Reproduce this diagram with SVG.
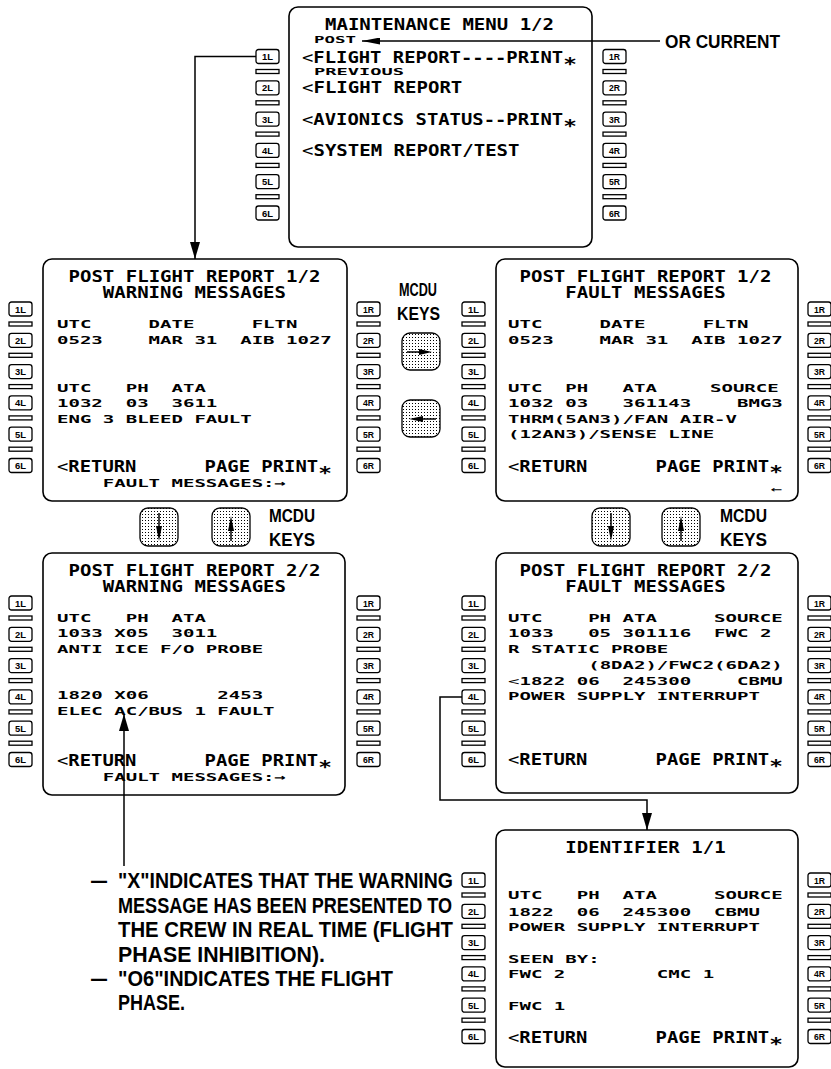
<svg xmlns="http://www.w3.org/2000/svg" width="831" height="1069" viewBox="0 0 831 1069" xml:space="preserve">
<style>
.scr{fill:#fff;stroke:#000;stroke-width:1.6}
.k{fill:#fff;stroke:#000;stroke-width:1.3}
.kl{font-family:"Liberation Sans Narrow","Liberation Sans",Arial,sans-serif;font-weight:bold;font-size:9.5px;text-anchor:middle}
.L,.S,.T{font-family:"DejaVu Sans Mono","Liberation Mono",monospace;font-weight:bold;white-space:pre;fill:#000}
.L{font-size:15px}
.S{font-size:11px}
.T{font-size:9px}
.n{font-weight:normal}
.A{font-family:"Liberation Sans Narrow","Liberation Sans",Arial,sans-serif;font-weight:bold;font-size:22px;white-space:pre}
.M{font-family:"Liberation Sans Narrow","Liberation Sans",Arial,sans-serif;font-weight:bold;font-size:19px}
.ln{fill:none;stroke:#000;stroke-width:1.5}
.btn{fill:url(#dots);stroke:#000;stroke-width:1.3}
</style>
<defs>
<pattern id="dots" width="3" height="3" patternUnits="userSpaceOnUse"><rect width="3" height="3" fill="#fff"/><rect x="1" y="1" width="1" height="1" fill="#000"/></pattern>
<marker id="ah" viewBox="0 0 17 10" refX="17" refY="5" markerWidth="17" markerHeight="10" markerUnits="userSpaceOnUse" orient="auto"><path d="M0,0 L17,5 L0,10 Z" fill="#000"/></marker>
<marker id="ah2" viewBox="0 0 18 7" refX="18" refY="3.5" markerWidth="18" markerHeight="7" markerUnits="userSpaceOnUse" orient="auto"><path d="M0,0 L18,3.5 L0,7 Z" fill="#000"/></marker>
<g id="kL">
<rect class="k" x="0" y="0" width="23" height="14" rx="2.5"/><rect class="k" x="0" y="20" width="23" height="4"/>
<rect class="k" x="0" y="31.3" width="23" height="14" rx="2.5"/><rect class="k" x="0" y="51.3" width="23" height="4"/>
<rect class="k" x="0" y="62.6" width="23" height="14" rx="2.5"/><rect class="k" x="0" y="82.6" width="23" height="4"/>
<rect class="k" x="0" y="93.9" width="23" height="14" rx="2.5"/><rect class="k" x="0" y="113.9" width="23" height="4"/>
<rect class="k" x="0" y="125.2" width="23" height="14" rx="2.5"/><rect class="k" x="0" y="145.2" width="23" height="4"/>
<rect class="k" x="0" y="156.5" width="23" height="14" rx="2.5"/>
<text class="kl" x="11.5" y="10.5" textLength="11" lengthAdjust="spacingAndGlyphs">1L</text>
<text class="kl" x="11.5" y="41.8" textLength="11" lengthAdjust="spacingAndGlyphs">2L</text>
<text class="kl" x="11.5" y="73.1" textLength="11" lengthAdjust="spacingAndGlyphs">3L</text>
<text class="kl" x="11.5" y="104.4" textLength="11" lengthAdjust="spacingAndGlyphs">4L</text>
<text class="kl" x="11.5" y="135.7" textLength="11" lengthAdjust="spacingAndGlyphs">5L</text>
<text class="kl" x="11.5" y="167" textLength="11" lengthAdjust="spacingAndGlyphs">6L</text>
</g>
<g id="kR">
<rect class="k" x="0" y="0" width="23" height="14" rx="2.5"/><rect class="k" x="0" y="20" width="23" height="4"/>
<rect class="k" x="0" y="31.3" width="23" height="14" rx="2.5"/><rect class="k" x="0" y="51.3" width="23" height="4"/>
<rect class="k" x="0" y="62.6" width="23" height="14" rx="2.5"/><rect class="k" x="0" y="82.6" width="23" height="4"/>
<rect class="k" x="0" y="93.9" width="23" height="14" rx="2.5"/><rect class="k" x="0" y="113.9" width="23" height="4"/>
<rect class="k" x="0" y="125.2" width="23" height="14" rx="2.5"/><rect class="k" x="0" y="145.2" width="23" height="4"/>
<rect class="k" x="0" y="156.5" width="23" height="14" rx="2.5"/>
<text class="kl" x="11.5" y="10.5" textLength="11" lengthAdjust="spacingAndGlyphs">1R</text>
<text class="kl" x="11.5" y="41.8" textLength="11" lengthAdjust="spacingAndGlyphs">2R</text>
<text class="kl" x="11.5" y="73.1" textLength="11" lengthAdjust="spacingAndGlyphs">3R</text>
<text class="kl" x="11.5" y="104.4" textLength="11" lengthAdjust="spacingAndGlyphs">4R</text>
<text class="kl" x="11.5" y="135.7" textLength="11" lengthAdjust="spacingAndGlyphs">5R</text>
<text class="kl" x="11.5" y="167" textLength="11" lengthAdjust="spacingAndGlyphs">6R</text>
</g>
</defs>
<rect width="831" height="1069" fill="#fff"/>

<g id="maintenance-menu">
<rect class="scr" x="289" y="7" width="303" height="240" rx="9"/>
<use href="#kL" x="256" y="49.5"/>
<use href="#kR" x="603" y="49.5"/>
<text class="L" x="325" y="30" textLength="229" lengthAdjust="spacingAndGlyphs">MAINTENANCE MENU 1/2</text>
<text class="T" x="314" y="43" textLength="42" lengthAdjust="spacingAndGlyphs">POST</text>
<text class="L" x="302" y="63" textLength="274.8" lengthAdjust="spacingAndGlyphs"><tspan class="n">&lt;</tspan>FLIGHT REPORT----PRINT<tspan dy="7" font-size="18px">*</tspan></text>
<text class="T" x="314" y="75" textLength="90" lengthAdjust="spacingAndGlyphs">PREVIOUS</text>
<text class="L" x="302" y="93" textLength="160.3" lengthAdjust="spacingAndGlyphs"><tspan class="n">&lt;</tspan>FLIGHT REPORT</text>
<text class="L" x="302" y="125" textLength="274.8" lengthAdjust="spacingAndGlyphs"><tspan class="n">&lt;</tspan>AVIONICS STATUS--PRINT<tspan dy="7" font-size="18px">*</tspan></text>
<text class="L" x="302" y="156" textLength="217.55" lengthAdjust="spacingAndGlyphs"><tspan class="n">&lt;</tspan>SYSTEM REPORT/TEST</text>
</g>

<g id="pfr-1-warning">
<rect class="scr" x="43" y="259" width="304" height="242" rx="9"/>
<use href="#kL" x="9" y="302"/>
<use href="#kR" x="357" y="302"/>
<text class="L" x="68.5" y="282" textLength="251.9" lengthAdjust="spacingAndGlyphs">POST FLIGHT REPORT 1/2</text>
<text class="L" x="102.8" y="298" textLength="183.2" lengthAdjust="spacingAndGlyphs">WARNING MESSAGES</text>
<text class="S" x="57" y="328" textLength="240.45" lengthAdjust="spacingAndGlyphs">UTC     DATE     FLTN</text>
<text class="S" x="57" y="344" textLength="274.8" lengthAdjust="spacingAndGlyphs">0523    MAR 31  AIB 1027</text>
<text class="S" x="57" y="392" textLength="148.85" lengthAdjust="spacingAndGlyphs">UTC   PH  ATA</text>
<text class="S" x="57" y="407" textLength="160.3" lengthAdjust="spacingAndGlyphs">1032  03  3611</text>
<text class="S" x="57" y="423" textLength="194.65" lengthAdjust="spacingAndGlyphs">ENG 3 BLEED FAULT</text>
<text class="L" x="57" y="472" textLength="274.8" lengthAdjust="spacingAndGlyphs"><tspan class="n">&lt;</tspan>RETURN      PAGE PRINT<tspan dy="7" font-size="18px">*</tspan></text>
<text class="S" x="102.8" y="487" textLength="183.2" lengthAdjust="spacingAndGlyphs">FAULT MESSAGES:→</text>
</g>

<g id="pfr-1-fault">
<rect class="scr" x="496" y="259" width="302" height="242" rx="9"/>
<use href="#kL" x="462" y="302"/>
<use href="#kR" x="808" y="302"/>
<text class="L" x="519.5" y="282" textLength="251.9" lengthAdjust="spacingAndGlyphs">POST FLIGHT REPORT 1/2</text>
<text class="L" x="565.3" y="298" textLength="160.3" lengthAdjust="spacingAndGlyphs">FAULT MESSAGES</text>
<text class="S" x="508" y="328" textLength="240.45" lengthAdjust="spacingAndGlyphs">UTC     DATE     FLTN</text>
<text class="S" x="508" y="344" textLength="274.8" lengthAdjust="spacingAndGlyphs">0523    MAR 31  AIB 1027</text>
<text class="S" x="508" y="392" textLength="148.85" lengthAdjust="spacingAndGlyphs">UTC  PH   ATA</text>
<text class="S" x="710" y="392" textLength="68.7" lengthAdjust="spacingAndGlyphs">SOURCE</text>
<text class="S" x="508" y="407" textLength="274.8" lengthAdjust="spacingAndGlyphs">1032 03   361143    BMG3</text>
<text class="S" x="508" y="423" textLength="229" lengthAdjust="spacingAndGlyphs">THRM(5AN3)/FAN AIR-V</text>
<text class="S" x="508" y="438" textLength="206.1" lengthAdjust="spacingAndGlyphs">(12AN3)/SENSE LINE</text>
<text class="L" x="508" y="472" textLength="274.8" lengthAdjust="spacingAndGlyphs"><tspan class="n">&lt;</tspan>RETURN      PAGE PRINT<tspan dy="6" font-size="18px">*</tspan></text>
<text class="S n" x="771" y="493" textLength="11.45" lengthAdjust="spacingAndGlyphs">←</text>
</g>

<g id="pfr-2-warning">
<rect class="scr" x="43" y="553" width="302" height="242" rx="9"/>
<use href="#kL" x="9" y="596"/>
<use href="#kR" x="357" y="596"/>
<text class="L" x="68.5" y="576" textLength="251.9" lengthAdjust="spacingAndGlyphs">POST FLIGHT REPORT 2/2</text>
<text class="L" x="102.8" y="592" textLength="183.2" lengthAdjust="spacingAndGlyphs">WARNING MESSAGES</text>
<text class="S" x="57" y="622" textLength="148.85" lengthAdjust="spacingAndGlyphs">UTC   PH  ATA</text>
<text class="S" x="57" y="637" textLength="160.3" lengthAdjust="spacingAndGlyphs">1033 X05  3011</text>
<text class="S" x="57" y="653" textLength="206.1" lengthAdjust="spacingAndGlyphs">ANTI ICE F/O PROBE</text>
<text class="S" x="57" y="699" textLength="206.1" lengthAdjust="spacingAndGlyphs">1820 X06      2453</text>
<text class="S" x="57" y="715" textLength="217.55" lengthAdjust="spacingAndGlyphs">ELEC AC/BUS 1 FAULT</text>
<text class="L" x="57" y="766" textLength="274.8" lengthAdjust="spacingAndGlyphs"><tspan class="n">&lt;</tspan>RETURN      PAGE PRINT<tspan dy="7" font-size="18px">*</tspan></text>
<text class="S" x="102.8" y="781" textLength="183.2" lengthAdjust="spacingAndGlyphs">FAULT MESSAGES:→</text>
</g>

<g id="pfr-2-fault">
<rect class="scr" x="496" y="553" width="302" height="240" rx="9"/>
<use href="#kL" x="462" y="596"/>
<use href="#kR" x="808" y="596"/>
<text class="L" x="519.5" y="576" textLength="251.9" lengthAdjust="spacingAndGlyphs">POST FLIGHT REPORT 2/2</text>
<text class="L" x="565.3" y="592" textLength="160.3" lengthAdjust="spacingAndGlyphs">FAULT MESSAGES</text>
<text class="S" x="508" y="622" textLength="148.85" lengthAdjust="spacingAndGlyphs">UTC    PH ATA</text>
<text class="S" x="714" y="622" textLength="68.7" lengthAdjust="spacingAndGlyphs">SOURCE</text>
<text class="S" x="508" y="637" textLength="263.35" lengthAdjust="spacingAndGlyphs">1033   05 301116  FWC 2</text>
<text class="S" x="508" y="653" textLength="160.3" lengthAdjust="spacingAndGlyphs">R STATIC PROBE</text>
<text class="S" x="588.2" y="669" textLength="194.65" lengthAdjust="spacingAndGlyphs">(8DA2)/FWC2(6DA2)</text>
<text class="S" x="508" y="685" textLength="274.8" lengthAdjust="spacingAndGlyphs"><tspan class="n">&lt;</tspan>1822 06  245300    CBMU</text>
<text class="S" x="508" y="700" textLength="251.9" lengthAdjust="spacingAndGlyphs">POWER SUPPLY INTERRUPT</text>
<text class="L" x="508" y="765" textLength="274.8" lengthAdjust="spacingAndGlyphs"><tspan class="n">&lt;</tspan>RETURN      PAGE PRINT<tspan dy="7" font-size="18px">*</tspan></text>
</g>

<g id="identifier">
<rect class="scr" x="496" y="830" width="302" height="237" rx="9"/>
<use href="#kL" x="462" y="873"/>
<use href="#kR" x="808" y="873"/>
<text class="L" x="565.3" y="853" textLength="160.3" lengthAdjust="spacingAndGlyphs">IDENTIFIER 1/1</text>
<text class="S" x="508" y="899" textLength="148.85" lengthAdjust="spacingAndGlyphs">UTC   PH  ATA</text>
<text class="S" x="714" y="899" textLength="68.7" lengthAdjust="spacingAndGlyphs">SOURCE</text>
<text class="S" x="508" y="915.5" textLength="251.9" lengthAdjust="spacingAndGlyphs">1822  06  245300  CBMU</text>
<text class="S" x="508" y="931" textLength="251.9" lengthAdjust="spacingAndGlyphs">POWER SUPPLY INTERRUPT</text>
<text class="S" x="508" y="963" textLength="91.6" lengthAdjust="spacingAndGlyphs">SEEN BY:</text>
<text class="S" x="508" y="978" textLength="206.1" lengthAdjust="spacingAndGlyphs">FWC 2        CMC 1</text>
<text class="S" x="508" y="1010" textLength="57.25" lengthAdjust="spacingAndGlyphs">FWC 1</text>
<text class="L" x="508" y="1043" textLength="274.8" lengthAdjust="spacingAndGlyphs"><tspan class="n">&lt;</tspan>RETURN      PAGE PRINT<tspan dy="7" font-size="18px">*</tspan></text>
</g>

<g id="mcdu-keys-lr">
<text class="M" x="399" y="296" textLength="38" lengthAdjust="spacingAndGlyphs">MCDU</text>
<text class="M" x="397" y="320" textLength="43" lengthAdjust="spacingAndGlyphs">KEYS</text>
<rect class="btn" x="402" y="333" width="38" height="37" rx="8"/>
<path d="M407,352 H421" class="ln"/><path d="M419,349 L432,352 L419,355 Z"/>
<rect class="btn" x="402" y="400" width="38" height="37" rx="8"/>
<path d="M421,419 H436" class="ln"/><path d="M423,416 L409,419 L423,422 Z"/>
</g>

<g id="mcdu-keys-left">
<rect class="btn" x="140" y="508" width="38" height="38" rx="8"/>
<path d="M159,513 V528" class="ln"/><path d="M156,526 L159,541 L162,526 Z"/>
<rect class="btn" x="212" y="508" width="38" height="38" rx="8"/>
<path d="M231,530 V541" class="ln"/><path d="M228,531 L231,516 L234,531 Z"/>
<text class="M" x="269" y="522" textLength="46" lengthAdjust="spacingAndGlyphs">MCDU</text>
<text class="M" x="269" y="546" textLength="46" lengthAdjust="spacingAndGlyphs">KEYS</text>
</g>

<g id="mcdu-keys-right">
<rect class="btn" x="592" y="508" width="38" height="38" rx="8"/>
<path d="M611,513 V528" class="ln"/><path d="M608,526 L611,541 L614,526 Z"/>
<rect class="btn" x="662" y="508" width="38" height="38" rx="8"/>
<path d="M681,530 V541" class="ln"/><path d="M678,531 L681,516 L684,531 Z"/>
<text class="M" x="720" y="522" textLength="47" lengthAdjust="spacingAndGlyphs">MCDU</text>
<text class="M" x="720" y="546" textLength="47" lengthAdjust="spacingAndGlyphs">KEYS</text>
</g>

<g id="or-current">
<text class="M" x="665" y="48" font-size="20px" textLength="115" lengthAdjust="spacingAndGlyphs">OR CURRENT</text>
</g>

<g id="note">
<text class="A" x="91" y="888" textLength="16" lengthAdjust="spacingAndGlyphs">—</text>
<text class="A" x="118" y="888" textLength="335" lengthAdjust="spacingAndGlyphs">"X"INDICATES THAT THE WARNING</text>
<text class="A" x="118" y="912.5" textLength="334" lengthAdjust="spacingAndGlyphs">MESSAGE HAS BEEN PRESENTED TO</text>
<text class="A" x="118" y="937" textLength="335" lengthAdjust="spacingAndGlyphs">THE CREW IN REAL TIME (FLIGHT</text>
<text class="A" x="118" y="961.5" textLength="207" lengthAdjust="spacingAndGlyphs">PHASE INHIBITION).</text>
<text class="A" x="91" y="986" textLength="16" lengthAdjust="spacingAndGlyphs">—</text>
<text class="A" x="118" y="986" textLength="275" lengthAdjust="spacingAndGlyphs">"O6"INDICATES THE FLIGHT</text>
<text class="A" x="118" y="1010" textLength="67" lengthAdjust="spacingAndGlyphs">PHASE.</text>
</g>

<g id="connectors">
<path class="ln" d="M256,56.5 H195 V259" marker-end="url(#ah)"/>
<path class="ln" d="M462,697 H440 V800 H647 V830" marker-end="url(#ah)"/>
<path class="ln" d="M660,41 H362" marker-end="url(#ah2)"/>
<path class="ln" d="M124,866 V714" marker-end="url(#ah)"/>
</g>
</svg>
